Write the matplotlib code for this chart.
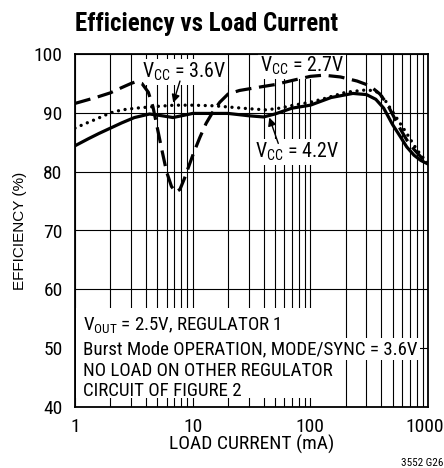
import matplotlib
matplotlib.use("Agg")
import matplotlib.pyplot as plt
import matplotlib.transforms as mtrans
from matplotlib.patches import Rectangle
from matplotlib.ticker import LogLocator, NullFormatter, FixedLocator

FONT = ['Roboto Condensed', 'DejaVu Sans']
plt.rcParams['font.family'] = FONT
plt.rcParams['mathtext.fontset'] = 'custom'
plt.rcParams['mathtext.rm'] = 'Roboto Condensed'
plt.rcParams['mathtext.it'] = 'Roboto Condensed'
plt.rcParams['mathtext.bf'] = 'Roboto Condensed:bold'

# --- data ---
x_27 = [1, 1.5, 2, 2.5, 3, 3.3, 3.7, 4.2, 4.6, 5.0, 5.5, 6.0, 6.6, 7.2, 7.8, 8.5, 9.3,
        10.2, 11.5, 13, 15, 17, 20, 25, 35, 50, 70, 100, 130, 180, 250, 320, 390, 450,
        510, 580, 660, 760, 870, 1000]
y_27 = [91.6, 92.6, 93.4, 94.3, 95.0, 95.3, 95.0, 93.5, 91.0, 87.5, 83.5, 80.0, 77.5,
        76.5, 77.0, 78.8, 81.0, 83.2, 85.8, 88.2, 90.3, 91.8, 93.2, 93.8, 94.3, 94.8,
        95.5, 96.2, 96.4, 96.1, 95.4, 94.6, 93.2, 91.5, 89.4, 87.3, 85.4, 83.8, 82.5, 81.5]

x_36 = [1, 1.2, 1.5, 2, 2.5, 3.3, 5, 7, 10, 15, 20, 30, 42, 55, 72, 100, 130, 200, 300,
        360, 420, 500, 580, 660, 760, 870, 1000]
y_36 = [87.4, 88.1, 88.9, 90.0, 90.5, 90.8, 91.1, 91.3, 91.3, 91.2, 91.0, 90.7, 90.5,
        90.8, 91.3, 91.8, 92.4, 93.5, 93.9, 93.7, 92.5, 90.2, 88.2, 86.5, 84.5, 82.8, 81.5]

x_42 = [1, 1.3, 1.6, 2, 2.5, 3.2, 4.3, 5.5, 6.8, 8.5, 10, 15, 20, 30, 40, 50, 70, 100,
        150, 230, 300, 360, 420, 500, 580, 660, 760, 870, 1000]
y_42 = [84.4, 85.6, 86.5, 87.4, 88.3, 89.2, 89.8, 89.5, 89.2, 89.6, 89.9, 89.9, 89.9,
        89.5, 89.3, 89.8, 90.8, 91.3, 92.6, 93.3, 93.1, 92.3, 90.8, 88.0, 86.0, 84.2,
        82.8, 81.9, 81.3]

x_ticks = [1, 10, 100, 1000]
x_tick_labels = ['1', '10', '100', '1000']
y_ticks = [40, 50, 60, 70, 80, 90, 100]

note_lines = [r'V$_{\mathrm{OUT}}$ = 2.5V, REGULATOR 1',
              'Burst Mode OPERATION, MODE/SYNC = 3.6V',
              'NO LOAD ON OTHER REGULATOR',
              'CIRCUIT OF FIGURE 2']

fig = plt.figure(figsize=(4.44, 4.68), dpi=100)
ax = fig.add_axes([75/444, 61/468, 353/444, 353/468])
ax.set_axisbelow(True)

ax.set_xscale('log')
ax.set_xlim(1, 1000)
ax.set_ylim(40, 100)

# grid
ax.xaxis.set_major_locator(FixedLocator(x_ticks))
ax.xaxis.set_minor_locator(LogLocator(base=10, subs=range(2, 10)))
ax.xaxis.set_minor_formatter(NullFormatter())
ax.set_xticks(x_ticks)
ax.set_xticklabels(x_tick_labels)
ax.set_yticks(y_ticks)
ax.grid(True, which='both', axis='x', color='black', lw=0.8)
ax.grid(True, which='major', axis='y', color='black', lw=0.8)
ax.tick_params(which='both', length=0, labelsize=14)
ax.tick_params(axis='y', pad=9)
ax.tick_params(axis='x', pad=8)
for s in ax.spines.values():
    s.set_linewidth(1.3)
    s.set_zorder(5)

# keep the last x tick label inside the figure
last = ax.get_xticklabels()[-1]
last.set_transform(last.get_transform() +
                   mtrans.ScaledTranslation(-3/100, 0, fig.dpi_scale_trans))

# curves
ax.plot(x_27, y_27, color='black', lw=2.3, dashes=(5, 2.4), zorder=3)
ax.plot(x_36, y_36, color='black', lw=2.4, dashes=(0.01, 2.0), dash_capstyle='round', zorder=3)
ax.plot(x_42, y_42, color='black', lw=2.3, zorder=3)

# note box
ax.add_patch(Rectangle((0.004, 0.025), 0.746, 0.255, transform=ax.transAxes,
                       facecolor='white', edgecolor='none', zorder=1))
note_y = [0.217, 0.149, 0.088, 0.032]
for i, (t, yy) in enumerate(zip(note_lines, note_y)):
    bb = dict(facecolor='white', edgecolor='none', pad=1.5) if i == 1 else None
    ax.text(0.0235, yy, t, transform=ax.transAxes, fontsize=13.6, ha='left', va='baseline',
            bbox=bb, zorder=2)

lab_bbox = dict(facecolor='white', edgecolor='none', pad=1.5)
ax.text(3.69, 95.9, r'V$_{\mathrm{CC}}$ = 3.6V', fontsize=14.3, ha='left', va='baseline',
        bbox=lab_bbox, zorder=2)
ax.text(37.3, 97.0, r'V$_{\mathrm{CC}}$ = 2.7V', fontsize=14.3, ha='left', va='baseline',
        bbox=lab_bbox, zorder=2)
ax.text(33.8, 82.3, r'V$_{\mathrm{CC}}$ = 4.2V', fontsize=14.3, ha='left', va='baseline',
        bbox=lab_bbox, zorder=2)

arrow = dict(arrowstyle='-|>', color='black', lw=1.0, mutation_scale=12, shrinkA=0, shrinkB=0)
ax.annotate('', xy=(6.84, 91.7), xytext=(7.8, 95.4), arrowprops=arrow, zorder=4)
ax.annotate('', xy=(44.8, 89.2), xytext=(53.4, 84.8), arrowprops=arrow, zorder=4)

ax.set_xlabel('LOAD CURRENT (mA)', fontsize=14, labelpad=-1)
ax.set_ylabel('EFFICIENCY (%)', fontsize=11, family=['Liberation Sans', 'DejaVu Sans'])
ax.yaxis.set_label_coords(27/444, (468 - 231)/468, transform=fig.transFigure)

fig.text(75/444, 1 - 24/468, 'Efficiency vs Load Current', fontsize=18, fontweight='bold',
         ha='left', va='center')
fig.text(443/444, 1 - 463/468, '3552 G26', fontsize=8, ha='right', va='center')

fig.savefig('out.png', dpi=100)
